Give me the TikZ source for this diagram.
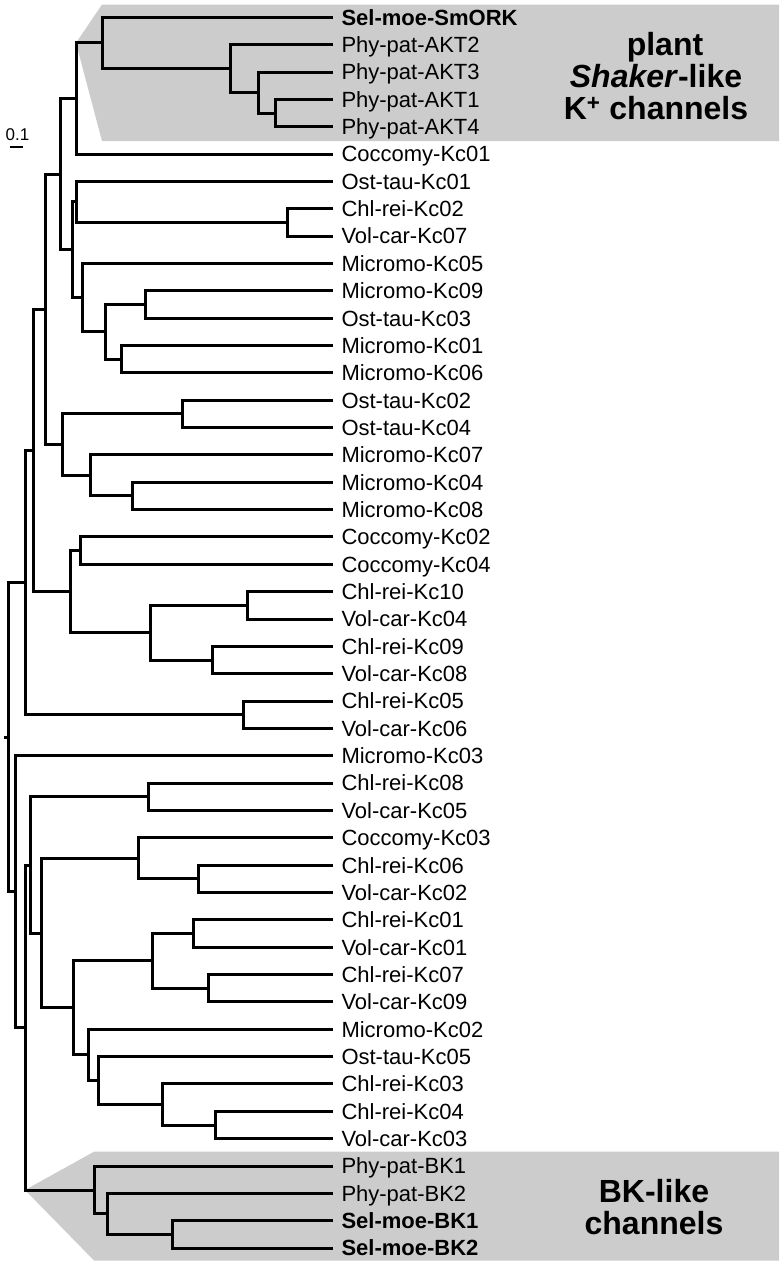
\documentclass[tikz,border=0pt]{standalone}
\usepackage{fontspec}
\setmainfont{Liberation Sans}
\usepackage{tikz}
\usetikzlibrary{calc}

\begin{document}
\begin{tikzpicture}[x=1pt, y=-1pt]
		\tikzset{branch/.style={line width=3pt},
			leaf/.style={anchor=west, inner xsep=8.3pt, inner ysep=0pt, text height=15.7pt, text depth=0pt, font=\fontsize{22}{24}\selectfont},
			clade/.style={fill=black!20},
			grouplabel/.style={align=center, font=\bfseries\fontsize{32}{32}\selectfont}}
		\useasboundingbox (0,0) rectangle (784,1266);
		% shaded clades
		\coordinate (sh) at (102,42.95);
		\coordinate (nB) at (76,98.5);
		\coordinate (bk) at (94,1190.0);
		\coordinate (nP) at (25,1027.5);
		\fill[clade] (nB |- sh) -- (102,4.5) -- (779,4.5) -- (779,141) -- (102,141) -- cycle;
		\fill[clade] (nP |- bk) -- (94,1151.7) -- (779,1151.7) -- (779,1260.5) -- (94,1260.5) -- cycle;
		\node[grouplabel] (shaker) at (656,76) {\hspace*{18pt}plant\\\textit{Shaker}-like\\K\textsuperscript{+} channels};
		\node[grouplabel] (bklike) at (654,1207) {BK-like\\channels};
		% leaves
		\foreach \lab [count=\i] in {\textbf{Sel-moe-SmORK},Phy-pat-AKT2,Phy-pat-AKT3,Phy-pat-AKT1,Phy-pat-AKT4,
			Coccomy-Kc01,Ost-tau-Kc01,Chl-rei-Kc02,Vol-car-Kc07,Micromo-Kc05,Micromo-Kc09,Ost-tau-Kc03,
			Micromo-Kc01,Micromo-Kc06,Ost-tau-Kc02,Ost-tau-Kc04,Micromo-Kc07,Micromo-Kc04,Micromo-Kc08,
			Coccomy-Kc02,Coccomy-Kc04,Chl-rei-Kc10,Vol-car-Kc04,Chl-rei-Kc09,Vol-car-Kc08,Chl-rei-Kc05,
			Vol-car-Kc06,Micromo-Kc03,Chl-rei-Kc08,Vol-car-Kc05,Coccomy-Kc03,Chl-rei-Kc06,Vol-car-Kc02,
			Chl-rei-Kc01,Vol-car-Kc01,Chl-rei-Kc07,Vol-car-Kc09,Micromo-Kc02,Ost-tau-Kc05,Chl-rei-Kc03,
			Chl-rei-Kc04,Vol-car-Kc03,Phy-pat-BK1,Phy-pat-BK2,\textbf{Sel-moe-BK1},\textbf{Sel-moe-BK2}}
			\node[leaf] (l\i) at (333,{17.3+27.35*(\i-1)}) {\lab};
		% inner nodes
		\coordinate (a14) at (275,113.0);
		\coordinate (a3) at (258,92.5);
		\coordinate (akt) at (230,68.6);
		\coordinate (cv1) at (287,222.4);
		\coordinate (nE) at (76,201.9);
		\coordinate (mo1) at (145,304.5);
		\coordinate (mo2) at (121,359.2);
		\coordinate (nG) at (105,331.8);
		\coordinate (nF) at (82,297.6);
		\coordinate (nD) at (72,249.8);
		\coordinate (nC) at (60,174.1);
		\coordinate (ot) at (182,413.9);
		\coordinate (mo3) at (132,495.9);
		\coordinate (nJ) at (90,475.4);
		\coordinate (nI) at (62.5,444.6);
		\coordinate (nH) at (45,309.4);
		\coordinate (cc) at (80.5,550.6);
		\coordinate (cv2) at (247,605.3);
		\coordinate (cv3) at (212,660.0);
		\coordinate (nM) at (150,632.7);
		\coordinate (nL) at (70,591.6);
		\coordinate (nK) at (33.3,450.5);
		\coordinate (cv4) at (243,714.7);
		\coordinate (nN) at (25,582.6);
		\coordinate (cv5) at (148,796.8);
		\coordinate (cv6) at (198,878.8);
		\coordinate (nS) at (138,858.3);
		\coordinate (cv7) at (193,933.5);
		\coordinate (cv8) at (208,988.2);
		\coordinate (nU) at (152,960.9);
		\coordinate (cv9) at (215,1125.0);
		\coordinate (nX) at (162,1104.5);
		\coordinate (nW) at (98,1080.6);
		\coordinate (nV) at (88,1054.9);
		\coordinate (nT) at (73,1007.9);
		\coordinate (nR) at (41,933.1);
		\coordinate (nQ) at (30,865.0);
		\coordinate (sb) at (172,1234.4);
		\coordinate (bk2) at (107,1213.9);
		\coordinate (nO) at (15.5,891.6);
		\coordinate (root) at (8.3,737.1);
		\coordinate (stub) at (3.8,737.1);
		% branches
		\draw[branch] (l4) -| (a14) |- (l5);
		\draw[branch] (l3) -| (a3) |- (a14);
		\draw[branch] (l2) -| (akt) |- (a3);
		\draw[branch] (l1) -| (sh) |- (akt);
		\draw[branch] (sh) -| (nB) |- (l6);
		\draw[branch] (l8) -| (cv1) |- (l9);
		\draw[branch] (l7) -| (nE) |- (cv1);
		\draw[branch] (l11) -| (mo1) |- (l12);
		\draw[branch] (l13) -| (mo2) |- (l14);
		\draw[branch] (mo1) -| (nG) |- (mo2);
		\draw[branch] (l10) -| (nF) |- (nG);
		\draw[branch] (nE) -| (nD) |- (nF);
		\draw[branch] (nB) -| (nC) |- (nD);
		\draw[branch] (l15) -| (ot) |- (l16);
		\draw[branch] (l18) -| (mo3) |- (l19);
		\draw[branch] (l17) -| (nJ) |- (mo3);
		\draw[branch] (ot) -| (nI) |- (nJ);
		\draw[branch] (nC) -| (nH) |- (nI);
		\draw[branch] (l20) -| (cc) |- (l21);
		\draw[branch] (l22) -| (cv2) |- (l23);
		\draw[branch] (l24) -| (cv3) |- (l25);
		\draw[branch] (cv2) -| (nM) |- (cv3);
		\draw[branch] (cc) -| (nL) |- (nM);
		\draw[branch] (nH) -| (nK) |- (nL);
		\draw[branch] (l26) -| (cv4) |- (l27);
		\draw[branch] (nK) -| (nN) |- (cv4);
		\draw[branch] (l29) -| (cv5) |- (l30);
		\draw[branch] (l32) -| (cv6) |- (l33);
		\draw[branch] (l31) -| (nS) |- (cv6);
		\draw[branch] (l34) -| (cv7) |- (l35);
		\draw[branch] (l36) -| (cv8) |- (l37);
		\draw[branch] (cv7) -| (nU) |- (cv8);
		\draw[branch] (l41) -| (cv9) |- (l42);
		\draw[branch] (l40) -| (nX) |- (cv9);
		\draw[branch] (l39) -| (nW) |- (nX);
		\draw[branch] (l38) -| (nV) |- (nW);
		\draw[branch] (nU) -| (nT) |- (nV);
		\draw[branch] (nS) -| (nR) |- (nT);
		\draw[branch] (cv5) -| (nQ) |- (nR);
		\draw[branch] (l45) -| (sb) |- (l46);
		\draw[branch] (l44) -| (bk2) |- (sb);
		\draw[branch] (l43) -| (bk) |- (bk2);
		\draw[branch] (nQ) -| (nP) |- (bk);
		\draw[branch] (l28) -| (nO) |- (nP);
		\draw[branch] (nN) -| (root) |- (nO);
		\draw[branch] (root) -- (stub);
		% scale
		\node[font=\fontsize{17}{20}\selectfont] (scale) at (17.5,135) {0.1};
		\coordinate (sbl) at (10,147.3);
		\coordinate (sbr) at (23,147.3);
		\draw[line width=2pt] (sbl) -- (sbr);
	\end{tikzpicture}
\end{document}
